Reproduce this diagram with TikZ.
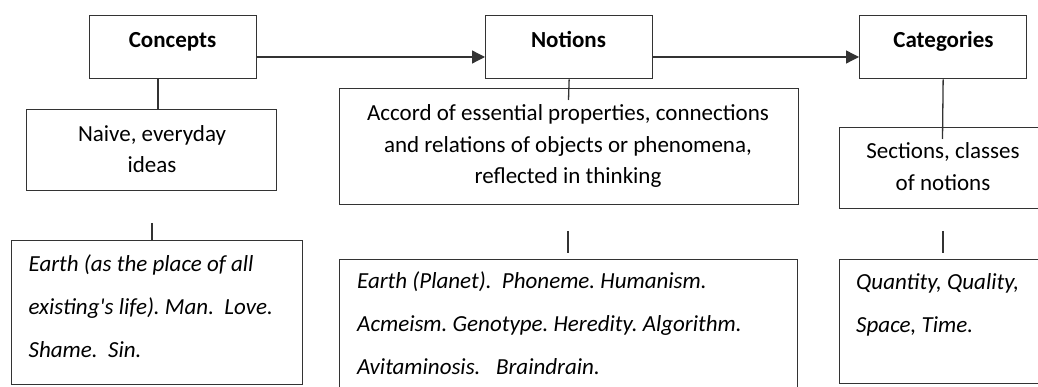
\documentclass[tikz,border=0pt]{standalone}
\usepackage{fontspec}
\setmainfont{Carlito}
\usetikzlibrary{arrows.meta}
\frenchspacing
\begin{document}
\begin{tikzpicture}[x=1pt,y=-1pt,
  box/.style={draw=black!80, line width=1.3pt, rectangle, inner sep=0pt, anchor=north west},
  conn/.style={draw=black!80, line width=1.3pt},
  arr/.style={conn, -{Triangle[length=13pt,width=13pt]}},
  head/.style={font=\fontsize{23}{31}\selectfont\bfseries, anchor=base, inner sep=0pt},
  up/.style={font=\fontsize{23}{31.5}\selectfont, align=center, anchor=base, inner sep=0pt},
  it/.style={font=\fontsize{23}{43}\selectfont\itshape, align=left, anchor=base west, inner sep=0pt}]
\useasboundingbox (0,0) rectangle (1038,387);
\clip (0,0) rectangle (1038,387);
% boxes
\node[box, minimum width=167pt, minimum height=63pt] (concepts) at (89,15) {};
\node[box, minimum width=167pt, minimum height=63pt] (notions) at (485,15) {};
\node[box, minimum width=167pt, minimum height=63pt] (categories) at (859,15) {};
\node[box, minimum width=250pt, minimum height=81pt] (naive) at (26,109) {};
\node[box, minimum width=459pt, minimum height=116pt] (accord) at (339,88) {};
\node[box, minimum width=210pt, minimum height=81pt] (sections) at (839,127) {};
\node[box, minimum width=291pt, minimum height=144pt] (ex1) at (11,240) {};
\node[box, minimum width=458pt, minimum height=150pt] (ex2) at (339,259) {};
\node[box, minimum width=210pt, minimum height=124pt] (ex3) at (839,259) {};
% texts (anchor base = baseline of the last line)
\node[head] (tconcepts) at (172.5,47.5) {Concepts};
\node[head] (tnotions) at (568.5,47.5) {Notions};
\node[head] (tcategories) at (943.5,47.5) {Categories};
\node[up] (tnaive) at (152,173) {Naive, everyday\\ideas};
\node[up] (taccord) at (568,184) {Accord of essential properties, connections\\and relations of objects or phenomena,\\reflected in thinking};
\node[up] (tsections) at (943,190.5) {Sections, classes\\of notions};
\node[it] (tex1) at (28.5,357) {Earth (as the place of all\\existing\textquotesingle s life). Man.\ \ Love.\\Shame.\ \ Sin.};
\node[it] (tex2) at (357,374) {Earth (Planet).\ \ Phoneme. Humanism.\\Acmeism. Genotype. Heredity. Algorithm.\\Avitaminosis.\ \ \ Braindrain.};
\node[it] (tex3) at (856,332.5) {Quantity, Quality,\\Space, Time.};
% connectors
\coordinate (x1) at (158,0);
\draw[conn] (concepts.south -| x1) -- (naive.north -| x1);
\coordinate (ay) at (0,57);
\draw[arr] (concepts.east |- ay) -- (notions.west |- ay);
\draw[arr] (notions.east |- ay) -- (categories.west |- ay);
\coordinate (nend) at (568.5,100);
\draw[conn] (notions.south) -- (nend);
\coordinate (cend) at (942.5,139);
\draw[conn] (categories.south) -- (cend);
\coordinate (l1) at (152,223);
\draw[conn] (l1) -- (l1 |- ex1.north);
\coordinate (m1) at (568,231);
\coordinate (m2) at (568,253);
\draw[conn] (m1) -- (m2);
\coordinate (r1) at (943,231);
\coordinate (r2) at (943,253);
\draw[conn] (r1) -- (r2);
\end{tikzpicture}
\end{document}
